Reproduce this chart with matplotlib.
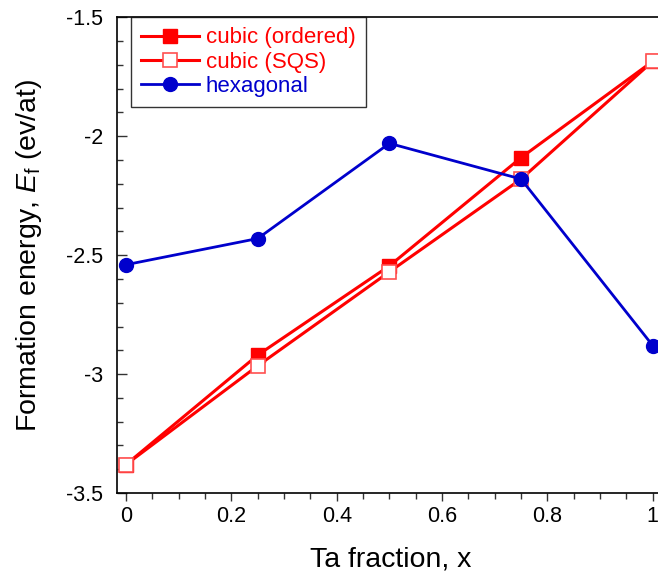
import matplotlib.pyplot as plt
from matplotlib.ticker import MultipleLocator

plt.rcParams['font.family'] = ['Liberation Sans', 'DejaVu Sans']
plt.rcParams['mathtext.fontset'] = 'custom'
plt.rcParams['mathtext.it'] = 'Liberation Sans:italic'
plt.rcParams['mathtext.rm'] = 'Liberation Sans'

# data
x = [0, 0.25, 0.5, 0.75, 1.0]
cubic_ordered = [-3.38, -2.92, -2.545, -2.09, -1.685]
cubic_sqs = [-3.38, -2.965, -2.57, -2.18, -1.685]
hexagonal = [-2.54, -2.43, -2.03, -2.18, -2.88]
xticks = [0, 0.2, 0.4, 0.6, 0.8, 1]
yticks = [-3.5, -3, -2.5, -2, -1.5]

fig = plt.figure(figsize=(6.58, 5.76), dpi=100)
ax = fig.add_axes([0.178, 0.144, 0.83, 0.826])

ax.plot(x, cubic_ordered, color='#ff0000', lw=2.2, marker='s', ms=10,
        mfc='#ff0000', mec='#ff0000', label='cubic (ordered)', zorder=3)
ax.plot(x, cubic_sqs, color='#ff0000', lw=2.2, marker='s', ms=10,
        mfc='white', mec='#ff5050', mew=1.2, label='cubic (SQS)', zorder=3)
ax.plot(x, hexagonal, color='#0000cc', lw=2.0, marker='o', ms=10,
        mfc='#0000cc', mec='#0000cc', label='hexagonal', zorder=4)

ax.set_xlim(-0.017, 1.02)
ax.set_ylim(-3.5, -1.5)
ax.set_xticks(xticks)
ax.set_xticklabels(['0', '0.2', '0.4', '0.6', '0.8', '1'])
ax.set_yticks(yticks)
ax.set_yticklabels(['-3.5', '-3', '-2.5', '-2', '-1.5'])
ax.xaxis.set_minor_locator(MultipleLocator(0.05))
ax.yaxis.set_minor_locator(MultipleLocator(0.1))
ax.tick_params(which='both', top=False, right=False, labelsize=15.5,
               width=1.0, color='#333333')
ax.tick_params(axis='x', which='both', direction='out')
ax.tick_params(axis='y', which='both', direction='in')
ax.tick_params(axis='x', which='major', length=6, pad=3)
ax.tick_params(axis='x', which='minor', length=4)
ax.tick_params(axis='y', which='major', length=7, pad=10)
ax.tick_params(axis='y', which='minor', length=4)
ax.spines['right'].set_visible(False)
for s in ['left', 'bottom', 'top']:
    ax.spines[s].set_linewidth(1.2)

ax.set_xlabel('Ta fraction, x', fontsize=20.5, labelpad=14)
ax.set_ylabel(r'Formation energy, $E_\mathrm{f}$ (ev/at)', fontsize=20.5, labelpad=16)

leg = ax.legend(loc='upper left', bbox_to_anchor=(0.026, 1.0), fontsize=16,
                frameon=True, fancybox=False, edgecolor='black',
                handlelength=2.6, handletextpad=0.3, borderpad=0.45,
                labelspacing=0.15, borderaxespad=0)
leg.get_frame().set_linewidth(1.0)
for t, c in zip(leg.get_texts(), ['#ff0000', '#ff0000', '#0000cc']):
    t.set_color(c)

fig.savefig('out.png', dpi=100)
